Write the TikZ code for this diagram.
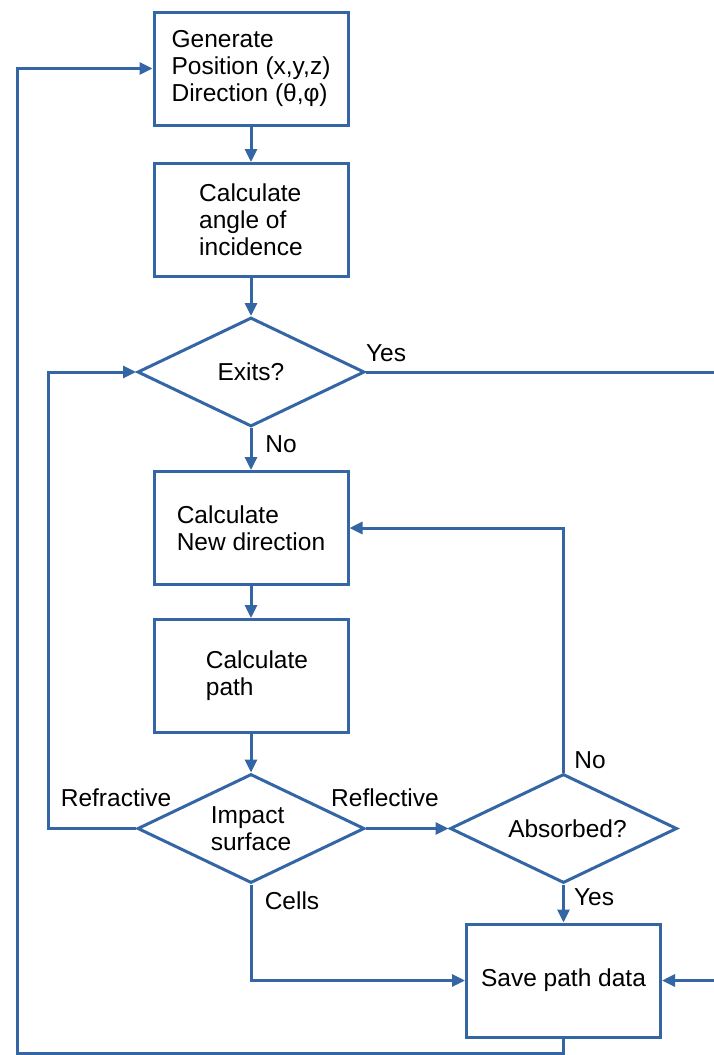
\documentclass[tikz,border=0pt]{standalone}
\usepackage{fontspec}
\setmainfont{Liberation Sans}
\usetikzlibrary{shapes.geometric,arrows.meta}
\definecolor{lb}{HTML}{3465A4}
\begin{document}
\begin{tikzpicture}[x=1pt,y=-1pt,
  every node/.style={font=\fontsize{24.5}{27}\selectfont},
  box/.style={draw=lb,line width=3pt,minimum width=194pt,minimum height=113pt,align=left,inner sep=0pt},
  dec/.style={draw=lb,line width=3pt,diamond,aspect=2.08,minimum width=227pt,minimum height=109pt,inner sep=0pt,align=left},
  conn/.style={draw=lb,line width=3pt},
  arr/.style={conn,-{Triangle[length=13pt,width=12pt]}},
  lbl/.style={inner sep=0pt}]
\useasboundingbox (0,0) rectangle (713,1055);
\node[box] (gen) at (251,68.5) {Generate\\Position (x,y,z)\\Direction (θ,φ)};
\node[box] (angle) at (251,220) {Calculate\\angle of\\incidence};
\node[dec] (exits) at (251,372) {Exits?};
\node[box] (newdir) at (251,528) {Calculate\\New direction};
\node[box] (path) at (251,676) {\hspace*{12pt}Calculate\\\hspace*{12pt}path};
\node[dec] (impact) at (251,828.5) {Impact\\surface};
\node[dec] (absorbed) at (563.5,828.5) {\hspace*{8pt}Absorbed?};
\node[box] (save) at (563.5,980.5) {Save path data};
\coordinate (rl) at (48,600);
\coordinate (re) at (717,700);
\coordinate (bl) at (17,1053);
\draw[arr] (gen) -- (angle);
\draw[arr] (angle) -- (exits);
\draw[arr] (exits) -- (newdir);
\draw[arr] (newdir) -- (path);
\draw[arr] (path) -- (impact);
\draw[arr] (impact.east) -- (absorbed.west);
\draw[arr] (absorbed) -- (save);
\draw[arr] (impact.south) |- (save.west);
\draw[arr] (impact.west) -| (rl) |- (exits.west);
\draw[arr] (absorbed.north) |- (newdir.east);
\draw[arr] (exits.east) -| (re) |- (save.east);
\draw[arr] (save.south) |- (bl) |- (gen.west);
\node[lbl] (l1) at (386,353) {Yes};
\node[lbl] (l2) at (281,444) {No};
\node[lbl] (l3) at (116,798) {Refractive};
\node[lbl] (l4) at (385,798) {Reflective};
\node[lbl] (l5) at (590,760) {No};
\node[lbl] (l6) at (292,901) {Cells};
\node[lbl] (l7) at (594,897) {Yes};
\end{tikzpicture}
\end{document}
